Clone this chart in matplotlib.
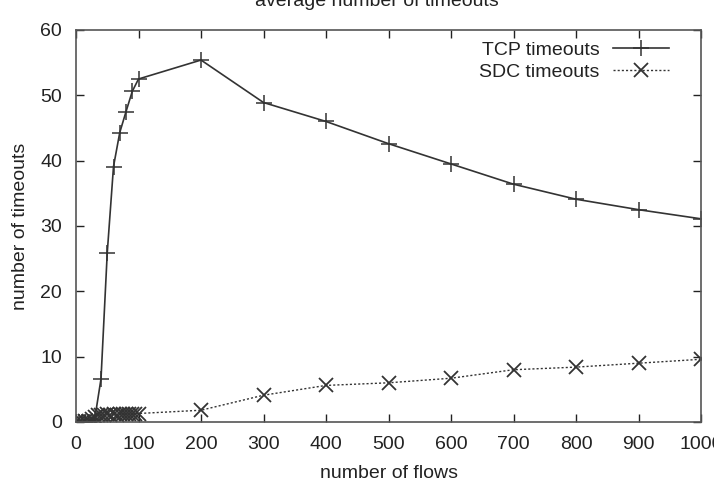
import matplotlib
matplotlib.use("Agg")
import matplotlib.pyplot as plt

plt.rcParams['font.family'] = ['Liberation Sans', 'DejaVu Sans']

tcp_x = [0, 5, 10, 15, 20, 25, 30, 40, 50, 60, 70, 80, 90, 100, 200, 300, 400, 500, 600, 700, 800, 900, 1000]
tcp_y = [0, 0, 0, 0, 0, 0.1, 0.5, 6.6, 25.9, 39.1, 44.3, 47.5, 50.6, 52.5, 55.4, 48.9, 46.0, 42.6, 39.5, 36.4, 34.1, 32.5, 31.1]

sdc_x = [0, 5, 10, 15, 20, 25, 30, 35, 40, 45, 50, 55, 60, 65, 70, 75, 80, 85, 90, 95, 100, 200, 300, 400, 500, 600, 700, 800, 900, 1000]
sdc_y = [0, 0, 0, 0.1, 0.2, 0.5, 0.8, 1.0, 1.1, 1.0, 1.2, 1.1, 1.2, 1.1, 1.3, 1.2, 1.2, 1.3, 1.2, 1.3, 1.3, 1.8, 4.1, 5.6, 6.0, 6.7, 8.0, 8.4, 9.0, 9.6]

x_ticks = [0, 100, 200, 300, 400, 500, 600, 700, 800, 900, 1000]
y_ticks = [0, 10, 20, 30, 40, 50, 60]

FS = 14

fig = plt.figure(figsize=(7.14, 4.88), dpi=100)
ax = fig.add_axes([76/714, 1-422/488, (701-76)/714, (422-30)/488])

ax.plot(tcp_x, tcp_y, color='#333333', linestyle='-', linewidth=1.2, marker='+',
        markersize=12, markeredgewidth=1.1, label='TCP timeouts')
ax.plot(sdc_x, sdc_y, color='#333333', linestyle=(0, (1.5, 1.5)), linewidth=1.0, marker='x',
        markersize=10, markeredgewidth=1.3, label='SDC timeouts')

ax.set_xlim(0, 1000)
ax.set_ylim(0, 60)
ax.set_xticks(x_ticks)
ax.set_yticks(y_ticks)
ax.tick_params(direction='in', length=6, width=1, top=True, right=True,
               labelsize=FS, colors='#222222')
ax.tick_params(axis='y', pad=10)
ax.tick_params(axis='x', pad=10)
for s in ax.spines.values():
    s.set_color('#555555')
    s.set_linewidth(1.2)

ax.set_xlabel('number of flows', fontsize=FS, color='#222222', labelpad=9)
ax.set_ylabel('number of timeouts', fontsize=FS, color='#222222', labelpad=8)

leg = ax.legend(loc='upper right', frameon=False, markerfirst=False, fontsize=FS,
                handlelength=2.9, handletextpad=0.7, borderaxespad=0.2,
                labelspacing=0.2, bbox_to_anchor=(0.968, 1.0))
for t in leg.get_texts():
    t.set_color('#222222')

fig.text(377/714, 1 - 2/488, 'average number of timeouts', ha='center', va='center',
         fontsize=FS, color='#222222')

fig.savefig('out.png', dpi=100)
